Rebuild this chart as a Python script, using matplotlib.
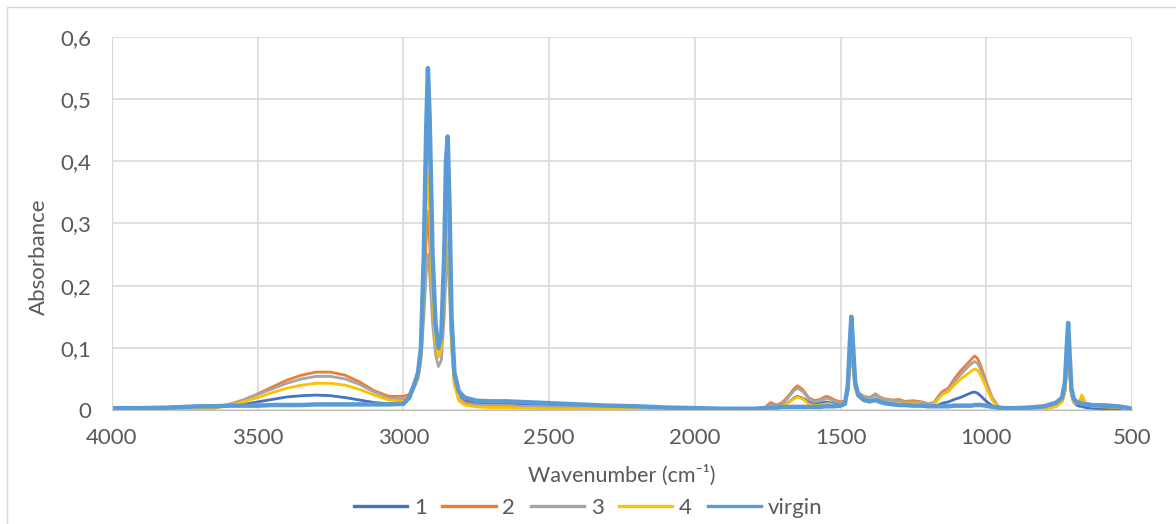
import matplotlib.pyplot as plt
from matplotlib.patches import Rectangle

plt.rcParams['font.family'] = ['Lato', 'DejaVu Sans']

# FTIR spectra, wavenumber in cm-1 (shared x for every series)
wavenumber = [
    4000, 3900, 3800, 3700, 3650, 3600, 3550, 3500, 3450, 3400, 3350, 3300, 3250, 3200, 3150, 3100, 3050, 3000,
    2980, 2960, 2950, 2940, 2930, 2922, 2916, 2910, 2900, 2890, 2880, 2870, 2860, 2854, 2848, 2842, 2835, 2825, 2810, 2790,
    2750, 2700, 2650, 2600, 2500, 2400, 2300, 2200, 2100, 2000, 1900, 1800,
    1760, 1740, 1720, 1700, 1680, 1660, 1648, 1630, 1610, 1590, 1570, 1550, 1540, 1520, 1500, 1485,
    1475, 1468, 1463, 1458, 1450, 1440, 1420, 1400, 1380, 1370, 1350, 1320, 1300,
    1280, 1250, 1220, 1200, 1180, 1160, 1150, 1130, 1110, 1090, 1070, 1050, 1040, 1030, 1020, 1000, 980, 960, 940,
    900, 850, 800, 760, 740, 730, 724, 719, 714, 708, 700, 690, 680, 672, 668, 660, 640, 600, 550, 520, 500,
]

abs_1 = [
    0.003, 0.003, 0.004, 0.005, 0.006, 0.007, 0.009, 0.013, 0.017, 0.021, 0.023, 0.024, 0.023, 0.020, 0.016, 0.012, 0.010, 0.011,
    0.02, 0.04, 0.055, 0.09, 0.22, 0.40, 0.50, 0.42, 0.22, 0.13, 0.095, 0.11, 0.22, 0.36, 0.40, 0.30, 0.14, 0.055, 0.025, 0.015,
    0.012, 0.012, 0.011, 0.010, 0.009, 0.007, 0.006, 0.005, 0.004, 0.003, 0.002, 0.002,
    0.003, 0.004, 0.005, 0.008, 0.012, 0.019, 0.022, 0.019, 0.013, 0.010, 0.011, 0.013, 0.012, 0.010, 0.009, 0.012,
    0.035, 0.09, 0.12, 0.09, 0.04, 0.022, 0.015, 0.013, 0.018, 0.016, 0.012, 0.010, 0.009,
    0.009, 0.008, 0.007, 0.006, 0.006, 0.009, 0.011, 0.013, 0.017, 0.020, 0.024, 0.028, 0.029, 0.027, 0.023, 0.014, 0.007, 0.003, 0.002,
    0.002, 0.003, 0.004, 0.008, 0.015, 0.035, 0.08, 0.11, 0.07, 0.028, 0.013, 0.008, 0.006, 0.006, 0.005, 0.004, 0.003, 0.002, 0.002, 0.001, 0.0,
]

abs_2 = [
    0.0, 0.0, 0.0, 0.001, 0.003, 0.008, 0.016, 0.026, 0.037, 0.048, 0.056, 0.061, 0.061, 0.056, 0.045, 0.031, 0.022, 0.022,
    0.025, 0.045, 0.055, 0.085, 0.18, 0.27, 0.32, 0.27, 0.16, 0.11, 0.09, 0.10, 0.18, 0.27, 0.30, 0.22, 0.11, 0.045, 0.02, 0.012,
    0.008, 0.007, 0.007, 0.006, 0.005, 0.004, 0.004, 0.004, 0.003, 0.002, 0.001, 0.002,
    0.004, 0.012, 0.008, 0.012, 0.022, 0.034, 0.039, 0.033, 0.020, 0.015, 0.017, 0.022, 0.021, 0.016, 0.013, 0.015,
    0.03, 0.08, 0.10, 0.08, 0.04, 0.028, 0.022, 0.020, 0.026, 0.022, 0.018, 0.016, 0.017,
    0.014, 0.015, 0.013, 0.010, 0.012, 0.025, 0.030, 0.035, 0.050, 0.062, 0.072, 0.082, 0.087, 0.083, 0.072, 0.045, 0.020, 0.006, 0.002,
    0.001, 0.001, 0.002, 0.006, 0.014, 0.03, 0.07, 0.10, 0.065, 0.025, 0.012, 0.010, 0.012, 0.020, 0.018, 0.010, 0.008, 0.008, 0.006, 0.003, 0.0,
]

abs_3 = [
    0.001, 0.001, 0.001, 0.002, 0.004, 0.009, 0.016, 0.025, 0.034, 0.043, 0.050, 0.054, 0.054, 0.050, 0.041, 0.029, 0.019, 0.017,
    0.02, 0.04, 0.05, 0.08, 0.15, 0.22, 0.25, 0.22, 0.14, 0.09, 0.07, 0.08, 0.15, 0.22, 0.25, 0.19, 0.10, 0.04, 0.02, 0.01,
    0.008, 0.007, 0.007, 0.006, 0.005, 0.004, 0.004, 0.004, 0.003, 0.002, 0.002, 0.002,
    0.003, 0.008, 0.007, 0.010, 0.020, 0.031, 0.035, 0.030, 0.018, 0.013, 0.015, 0.019, 0.018, 0.014, 0.011, 0.013,
    0.03, 0.07, 0.09, 0.07, 0.035, 0.027, 0.021, 0.019, 0.024, 0.021, 0.017, 0.015, 0.015,
    0.013, 0.013, 0.012, 0.009, 0.011, 0.022, 0.027, 0.032, 0.045, 0.056, 0.066, 0.075, 0.078, 0.075, 0.066, 0.042, 0.020, 0.006, 0.002,
    0.002, 0.002, 0.003, 0.007, 0.014, 0.03, 0.07, 0.10, 0.065, 0.025, 0.013, 0.011, 0.013, 0.021, 0.019, 0.011, 0.009, 0.009, 0.007, 0.004, 0.001,
]

abs_4 = [
    0.0, 0.0, 0.0, 0.001, 0.003, 0.007, 0.013, 0.020, 0.028, 0.035, 0.040, 0.043, 0.043, 0.040, 0.033, 0.024, 0.016, 0.014,
    0.018, 0.04, 0.05, 0.085, 0.20, 0.33, 0.38, 0.32, 0.18, 0.11, 0.085, 0.10, 0.20, 0.28, 0.31, 0.23, 0.11, 0.04, 0.015, 0.008,
    0.005, 0.004, 0.004, 0.003, 0.002, 0.002, 0.002, 0.002, 0.002, 0.001, 0.001, 0.001,
    0.002, 0.006, 0.004, 0.006, 0.012, 0.018, 0.021, 0.018, 0.010, 0.007, 0.008, 0.010, 0.010, 0.008, 0.006, 0.010,
    0.03, 0.08, 0.10, 0.08, 0.035, 0.022, 0.016, 0.013, 0.018, 0.015, 0.012, 0.010, 0.010,
    0.010, 0.010, 0.009, 0.007, 0.009, 0.020, 0.025, 0.030, 0.040, 0.049, 0.056, 0.063, 0.066, 0.064, 0.057, 0.036, 0.016, 0.004, 0.001,
    0.001, 0.001, 0.002, 0.006, 0.013, 0.03, 0.07, 0.10, 0.065, 0.025, 0.013, 0.012, 0.015, 0.024, 0.020, 0.010, 0.006, 0.005, 0.004, 0.002, 0.0,
]

abs_virgin = [
    0.003, 0.003, 0.004, 0.006, 0.006, 0.007, 0.007, 0.007, 0.008, 0.008, 0.008, 0.009, 0.009, 0.009, 0.009, 0.009, 0.009, 0.010,
    0.02, 0.045, 0.06, 0.10, 0.25, 0.45, 0.55, 0.47, 0.25, 0.14, 0.10, 0.12, 0.25, 0.40, 0.44, 0.33, 0.15, 0.06, 0.03, 0.02,
    0.015, 0.014, 0.014, 0.013, 0.011, 0.009, 0.007, 0.006, 0.004, 0.003, 0.002, 0.002,
    0.003, 0.004, 0.004, 0.005, 0.005, 0.005, 0.005, 0.005, 0.005, 0.005, 0.005, 0.006, 0.006, 0.006, 0.007, 0.010,
    0.04, 0.11, 0.15, 0.11, 0.045, 0.025, 0.016, 0.014, 0.016, 0.014, 0.011, 0.009, 0.008,
    0.008, 0.007, 0.007, 0.006, 0.006, 0.006, 0.006, 0.006, 0.007, 0.007, 0.007, 0.007, 0.008, 0.008, 0.008, 0.007, 0.005, 0.004, 0.003,
    0.003, 0.004, 0.006, 0.012, 0.02, 0.045, 0.10, 0.14, 0.09, 0.035, 0.018, 0.013, 0.011, 0.010, 0.010, 0.009, 0.008, 0.007, 0.006, 0.004, 0.002,
]

labels = ['1', '2', '3', '4', 'virgin']
colors = ['#4472C4', '#ED7D31', '#A5A5A5', '#FFC000', '#5B9BD5']
widths = [2.0, 2.0, 2.0, 2.0, 3.2]
x_ticks = [4000, 3500, 3000, 2500, 2000, 1500, 1000, 500]
y_ticks = [0, 0.1, 0.2, 0.3, 0.4, 0.5, 0.6]
y_tick_labels = ['0', '0,1', '0,2', '0,3', '0,4', '0,5', '0,6']
text_col = '#595959'

fig = plt.figure(figsize=(11.76, 5.24), dpi=100)
ax = fig.add_axes([112 / 1176, 1 - 410 / 524, 1020 / 1176, 373 / 524])

series = [abs_1, abs_2, abs_3, abs_4, abs_virgin]
for vals, lab, col, lw in zip(series, labels, colors, widths):
    ax.plot(wavenumber, vals, color=col, lw=lw, label=lab, solid_joinstyle='round')

ax.set_xlim(4000, 500)
ax.set_ylim(0, 0.6)
ax.set_xticks(x_ticks)
ax.set_yticks(y_ticks)
ax.set_yticklabels(y_tick_labels)
ax.grid(True, color='#D9D9D9', lw=1.2)
ax.set_axisbelow(True)
for side in ['top', 'right']:
    ax.spines[side].set_visible(False)
ax.spines['left'].set_color('#D9D9D9')
ax.spines['bottom'].set_color('#BFBFBF')
ax.tick_params(length=0, labelsize=16, colors=text_col)
ax.tick_params(axis='y', pad=15)
ax.tick_params(axis='x', pad=13)
ax.set_xlabel('Wavenumber (cm\u207b\u00b9)', fontsize=15.5, color=text_col, labelpad=12)
ax.set_ylabel('Absorbance', fontsize=16, color=text_col)
ax.yaxis.set_label_coords(-0.062, (410 - 257) / 373)

leg = ax.legend(loc='center', bbox_to_anchor=(0.5, (524 - 508) / 524), bbox_transform=fig.transFigure,
                ncol=5, frameon=False, fontsize=16, handlelength=2.4, columnspacing=0.7,
                handletextpad=0.3, labelcolor=text_col)
for h in leg.legend_handles:
    h.set_linewidth(2.4)

# chart area border
fig.patches.append(Rectangle((7 / 1176, -0.05), 1.1, 1 - 7 / 524 + 0.05,
                             transform=fig.transFigure, fill=False, ec='#D9D9D9', lw=1))

fig.savefig('out.png', dpi=100)
